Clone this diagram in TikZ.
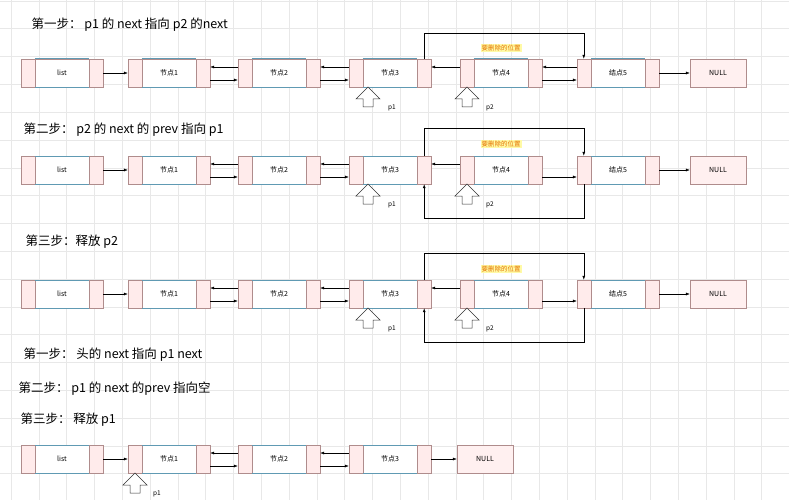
\documentclass[tikz,border=0pt]{standalone}
\usepackage{fontspec}
\setmainfont{Noto Sans CJK SC}
\usetikzlibrary{arrows.meta}
\tikzset{
	lnode/.style = {draw=red!30!black!45, fill=white, minimum width=82pt, minimum height=28pt, inner sep=0pt, font=\fontsize{7}{8}\selectfont},
	nullnode/.style = {lnode, fill=red!6, minimum width=56pt},
	cellbox/.style = {draw=red!30!black!45, fill=red!8},
	link/.style = {-{Latex[length=4pt,width=3pt]}, line width=0.5pt},
	stepline/.style = {anchor=west, font=\fontsize{12.5}{14}\selectfont},
	ptrtext/.style = {font=\fontsize{6.5}{7}\selectfont},
	delmark/.style = {fill=yellow!35, text=orange!90!black, inner sep=1pt, font=\fontsize{6.5}{7}\selectfont},
	hollowarr/.style = {draw=black!80, fill=white, line width=0.5pt}
}
% list node with prev/next cells
\newcommand\listnode[4]{
	\node[lnode] (#1) at (#2,#3) {#4};
	\draw[cellbox] (#1.north west) rectangle ++(14,28);
	\draw[cellbox] (#1.north east) rectangle ++(-14,28);
	\draw[cyan!60!black!80, line width=0.6pt] ([xshift=14pt]#1.north west) -- ([xshift=-14pt]#1.north east);
	\draw[cyan!60!black!80, line width=0.6pt] ([xshift=14pt]#1.south west) -- ([xshift=-14pt]#1.south east);
}
% hollow up arrow, tip at (x,y)
\newcommand\uparr[3]{
	\draw[hollowarr] (#2,#3) -- ++(12,12) -- ++(-7,0) -- ++(0,8) -- ++(-10,0) -- ++(0,-8) -- ++(-7,0) -- cycle;
	\coordinate (#1) at (#2,#3);
}
\begin{document}
\begin{tikzpicture}[x=1pt, y=-1pt]
	\useasboundingbox (0,0) rectangle (789,500);
	\fill[white] (0,0) rectangle (789,500);
	\foreach \gx in {11,38.8,...,789} \draw[black!9, line width=0.6pt] (\gx,0) -- (\gx,500);
	\foreach \gy in {1,28.8,...,500} \draw[black!9, line width=0.6pt] (0,\gy) -- (789,\gy);

	% step 1
	\node[stepline] (t1) at (28,25) {第一步： p1 的 next 指向 p2 的next};
	\listnode{a0}{62}{73}{list}
	\listnode{a1}{169}{73}{节点1}
	\listnode{a2}{279}{73}{节点2}
	\listnode{a3}{390}{73}{节点3}
	\listnode{a4}{501}{73}{节点4}
	\listnode{a5}{618}{73}{结点5}
	\node[nullnode] (a6) at (718,73) {NULL};
	\draw[link] (a0) -- (a1);
	\draw[link] ([yshift=6pt]a2.west) -- ([yshift=6pt]a1.east);
	\draw[link] ([yshift=-7pt]a1.east) -- ([yshift=-7pt]a2.west);
	\draw[link] ([yshift=6pt]a3.west) -- ([yshift=6pt]a2.east);
	\draw[link] ([yshift=-7pt]a2.east) -- ([yshift=-7pt]a3.west);
	\draw[link] ([yshift=6pt]a4.west) -- ([yshift=6pt]a3.east);
	\draw[link] ([yshift=6pt]a5.west) -- ([yshift=6pt]a4.east);
	\draw[link] ([yshift=-7pt]a4.east) -- ([yshift=-7pt]a5.west);
	\draw[link] (a5) -- (a6);
	\draw[link] ([xshift=-7pt]a3.north east) -- ++(0,-26) -| ([xshift=7pt]a5.north west);
	\node[delmark] (m1) at (501,48) {要删除的位置};
	\uparr{pa}{368}{87}
	\uparr{pb}{467}{87}
	\node[ptrtext] (pa1) at (392,108) {p1};
	\node[ptrtext] (pb1) at (490,108) {p2};

	% step 2
	\node[stepline] (t2) at (20,130) {第二步： p2 的 next 的 prev 指向 p1};
	\listnode{b0}{62}{170}{list}
	\listnode{b1}{169}{170}{节点1}
	\listnode{b2}{279}{170}{节点2}
	\listnode{b3}{390}{170}{节点3}
	\listnode{b4}{501}{170}{节点4}
	\listnode{b5}{618}{170}{结点5}
	\node[nullnode] (b6) at (718,170) {NULL};
	\draw[link] (b0) -- (b1);
	\draw[link] ([yshift=6pt]b2.west) -- ([yshift=6pt]b1.east);
	\draw[link] ([yshift=-7pt]b1.east) -- ([yshift=-7pt]b2.west);
	\draw[link] ([yshift=6pt]b3.west) -- ([yshift=6pt]b2.east);
	\draw[link] ([yshift=-7pt]b2.east) -- ([yshift=-7pt]b3.west);
	\draw[link] ([yshift=6pt]b4.west) -- ([yshift=6pt]b3.east);
	\draw[link] ([yshift=-7pt]b4.east) -- ([yshift=-7pt]b5.west);
	\draw[link] (b5) -- (b6);
	\draw[link] ([xshift=-7pt]b3.north east) -- ++(0,-28) -| ([xshift=7pt]b5.north west);
	\draw[link] ([xshift=7pt]b5.south west) -- ++(0,34) -| ([xshift=-7pt]b3.south east);
	\node[delmark] (m2) at (501,144) {要删除的位置};
	\uparr{pc}{368}{184}
	\uparr{pd}{467}{184}
	\node[ptrtext] (pc1) at (392,205) {p1};
	\node[ptrtext] (pd1) at (490,205) {p2};

	% step 3
	\node[stepline] (t3) at (22,242) {第三步：释放 p2};
	\listnode{c0}{62}{294}{list}
	\listnode{c1}{169}{294}{节点1}
	\listnode{c2}{279}{294}{节点2}
	\listnode{c3}{390}{294}{节点3}
	\listnode{c4}{501}{294}{节点4}
	\listnode{c5}{618}{294}{结点5}
	\node[nullnode] (c6) at (718,294) {NULL};
	\draw[link] (c0) -- (c1);
	\draw[link] ([yshift=6pt]c2.west) -- ([yshift=6pt]c1.east);
	\draw[link] ([yshift=-7pt]c1.east) -- ([yshift=-7pt]c2.west);
	\draw[link] ([yshift=6pt]c3.west) -- ([yshift=6pt]c2.east);
	\draw[link] ([yshift=-7pt]c2.east) -- ([yshift=-7pt]c3.west);
	\draw[link] ([yshift=6pt]c4.west) -- ([yshift=6pt]c3.east);
	\draw[link] ([yshift=-7pt]c4.east) -- ([yshift=-7pt]c5.west);
	\draw[link] (c5) -- (c6);
	\draw[link] ([xshift=-7pt]c3.north east) -- ++(0,-27) -| ([xshift=7pt]c5.north west);
	\draw[link] ([xshift=7pt]c5.south west) -- ++(0,34) -| ([xshift=-7pt]c3.south east);
	\node[delmark] (m3) at (501,269) {要删除的位置};
	\uparr{pe}{368}{308}
	\uparr{pf}{467}{308}
	\node[ptrtext] (pe1) at (392,329) {p1};
	\node[ptrtext] (pf1) at (490,329) {p2};

	% deleting the first node
	\node[stepline] (t4) at (20,355) {第一步： 头的 next 指向 p1 next};
	\node[stepline] (t5) at (15,389) {第二步： p1 的 next 的prev 指向空};
	\node[stepline] (t6) at (17,420) {第三步： 释放 p1};
	\listnode{d0}{62}{459}{list}
	\listnode{d1}{169}{459}{节点1}
	\listnode{d2}{279}{459}{节点2}
	\listnode{d3}{390}{459}{节点3}
	\node[nullnode] (d4) at (485,459) {NULL};
	\draw[link] (d0) -- (d1);
	\draw[link] ([yshift=6pt]d2.west) -- ([yshift=6pt]d1.east);
	\draw[link] ([yshift=-7pt]d1.east) -- ([yshift=-7pt]d2.west);
	\draw[link] ([yshift=6pt]d3.west) -- ([yshift=6pt]d2.east);
	\draw[link] ([yshift=-7pt]d2.east) -- ([yshift=-7pt]d3.west);
	\draw[link] (d3) -- (d4);
	\uparr{pg}{135}{473}
	\node[ptrtext] (pg1) at (157,494) {p1};
\end{tikzpicture}
\end{document}
